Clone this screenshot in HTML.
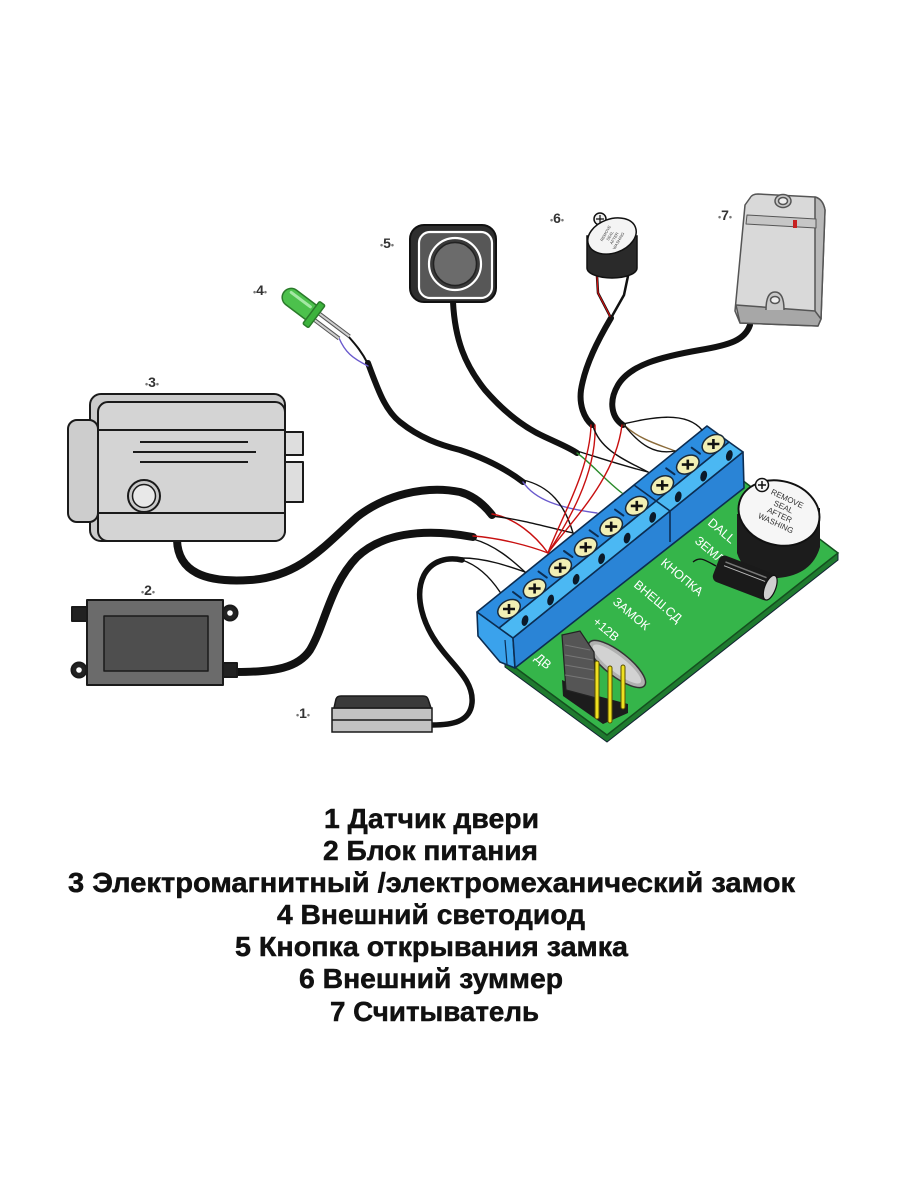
<!DOCTYPE html>
<html><head><meta charset="utf-8">
<style>html,body{margin:0;padding:0;background:#fff}svg{display:block}</style>
</head>
<body>
<svg width="900" height="1200" viewBox="0 0 900 1200" xmlns="http://www.w3.org/2000/svg">
<defs>
  <g id="scr">
    <ellipse rx="12" ry="8.5" transform="rotate(-30)" fill="#f1efb4" stroke="#1a2a3a" stroke-width="1.5"/>
    <path d="M-6,0 H6 M0,-5 V5" stroke="#111" stroke-width="2.6" fill="none"/>
  </g>
  <g id="hole">
    <ellipse rx="3.2" ry="5.5" transform="rotate(15)" fill="#0b1a2a"/>
  </g>
</defs>
<rect width="900" height="1200" fill="#fff"/>

<!-- thick cables -->
<g fill="none" stroke="#111" stroke-linecap="round">
  <path stroke-width="8" d="M177,540 C178,572 205,583 250,580 C300,577 325,545 357,517 C385,495 425,485 460,492 C475,496 485,506 492,515"/>
  <path stroke-width="8" d="M236,672 C275,672 298,668 310,650 C325,625 330,585 357,557 C380,535 420,527 473,537"/>
  <path stroke-width="5.5" d="M432,725 C452,725 470,722 472,703 C474,682 455,667 442,650 C422,625 414,595 424,575 C432,560 448,557 462,560"/>
  <path stroke-width="6" d="M368,363 C378,390 385,410 400,422 C420,438 440,445 460,450 C490,460 510,472 523,482"/>
  <path stroke-width="6" d="M453,302 C455,340 465,365 485,390 C505,413 525,428 545,437 C560,444 570,448 577,453"/>
  <path stroke-width="6" d="M611,318 C598,340 585,365 581,390 C579,405 584,418 592,425"/>
  <path stroke-width="6" d="M750,325 C745,340 730,345 700,350 C660,357 630,365 618,385 C608,402 612,418 623,425"/>
</g>

<!-- 3: lock -->
<g stroke="#1a1a1a" stroke-width="2" stroke-linejoin="round">
  <rect x="90" y="394" width="195" height="147" rx="11" fill="#cbcbcb"/>
  <rect x="98" y="402" width="187" height="139" rx="10" fill="#d4d4d4"/>
  <rect x="68" y="420" width="30" height="102" rx="9" fill="#cdcdcd"/>
  <rect x="285" y="432" width="18" height="23" fill="#dedede"/>
  <rect x="285" y="462" width="18" height="40" fill="#dedede"/>
  <line x1="98" y1="430" x2="285" y2="430"/>
  <line x1="98" y1="513" x2="285" y2="513"/>
  <line x1="140" y1="442" x2="248" y2="442"/>
  <line x1="133" y1="452" x2="256" y2="452"/>
  <line x1="140" y1="462" x2="248" y2="462"/>
  <circle cx="144" cy="496" r="16" fill="#c9c9c9"/>
  <circle cx="144" cy="496" r="11.5" fill="#e8e8e8" stroke-width="1.5"/>
</g>

<!-- 2: power supply -->
<g stroke="#1a1a1a" stroke-width="2" stroke-linejoin="round">
  <rect x="72" y="607" width="17" height="14" fill="#222"/>
  <circle cx="79" cy="670" r="7.5" fill="#222"/>
  <circle cx="79" cy="670" r="2.8" fill="#fff" stroke="none"/>
  <circle cx="230" cy="613" r="7.5" fill="#222"/>
  <circle cx="230" cy="613" r="2.8" fill="#fff" stroke="none"/>
  <rect x="221" y="663" width="16" height="14" fill="#222"/>
  <rect x="87" y="600" width="136" height="85" fill="#6b6b6b"/>
  <rect x="104" y="616" width="104" height="55" fill="#4e4e4e" stroke-width="1.5"/>
</g>

<!-- 1: door sensor -->
<g stroke="#1a1a1a" stroke-width="1.5">
  <rect x="332" y="708" width="100" height="24" fill="#c3c3c3"/>
  <line x1="332" y1="720" x2="432" y2="720"/>
  <path d="M334,708 L336,699 Q337,696 341,696 L423,696 Q427,696 428,699 L431,708 Z" fill="#3a3a3a"/>
</g>

<!-- 4: LED -->
<g fill="none" stroke-linecap="round">
  <path d="M348,336 C356,345 362,352 368,364" stroke="#111" stroke-width="2"/>
  <path d="M339,338 C345,352 352,358 368,366" stroke="#6a5acd" stroke-width="1.4"/>
</g>
<g transform="translate(284,292) rotate(37)" stroke-linejoin="round">
  <line x1="40" y1="-4" x2="79" y2="-4" stroke="#555" stroke-width="4"/>
  <line x1="40" y1="-4" x2="79" y2="-4" stroke="#cfcfcf" stroke-width="2"/>
  <line x1="40" y1="4" x2="72" y2="4" stroke="#555" stroke-width="4"/>
  <line x1="40" y1="4" x2="72" y2="4" stroke="#cfcfcf" stroke-width="2"/>
  <path d="M9,-9 L35,-9 L35,9 L9,9 A9,9 0 0 1 9,-9 Z" fill="#4cc14c" stroke="#2a7a2a" stroke-width="1.5"/>
  <line x1="6" y1="-4" x2="30" y2="-4" stroke="#a4e8a4" stroke-width="3" stroke-linecap="round"/>
  <rect x="34" y="-14" width="7" height="28" rx="1.5" fill="#3db33d" stroke="#2a7a2a" stroke-width="1.5"/>
</g>

<!-- 5: button -->
<g>
  <rect x="410" y="225" width="86" height="77" rx="14" fill="#2e2e2e" stroke="#111" stroke-width="2"/>
  <rect x="419" y="232" width="73" height="66" rx="11" fill="#575757" stroke="#fff" stroke-width="2.2"/>
  <circle cx="455" cy="264" r="26" fill="#3a3a3a" stroke="#fff" stroke-width="2.2"/>
  <circle cx="455" cy="264" r="21.5" fill="#6b6b6b" stroke="#222" stroke-width="1.5"/>
</g>

<!-- 6: external buzzer -->
<g stroke-linecap="round" fill="none">
  <path d="M597,276 L598,293 L611,318" stroke="#111" stroke-width="2.5"/>
  <path d="M597,276 L598,293 L611,318" stroke="#d01010" stroke-width="1.2"/>
  <path d="M628,276 L624,295 L611,318" stroke="#111" stroke-width="2.5"/>
</g>
<g stroke="#111" stroke-width="1.5">
  <path d="M587,236 L587,268 A25,10 0 0 0 637,268 L637,236 Z" fill="#2a2a2a"/>
  <circle cx="600" cy="219" r="6" fill="#f0f0f0"/>
  <path d="M596,219 H604 M600,215 V223" stroke-width="1.2"/>
  <ellipse cx="612" cy="236" rx="25" ry="17" transform="rotate(-20 612 236)" fill="#f4f4f4"/>
</g>
<g font-family="Liberation Sans, sans-serif" font-size="4" fill="#444" transform="rotate(-60 612 237)" text-anchor="middle">
  <text x="612" y="231">REMOVE</text>
  <text x="612" y="236">SEAL</text>
  <text x="612" y="241">AFTER</text>
  <text x="612" y="246">WASHING</text>
</g>

<!-- 7: reader -->
<g stroke="#555" stroke-width="1.5" stroke-linejoin="round">
  <path d="M750,198 Q752,194 758,194 L815,197 Q823,199 825,210 L821,319 L818,326 L740,323 L735,311 L745,205 Z" fill="#d9d9d9"/>
  <path d="M815,197 Q823,199 825,210 L821,319 L815,312 L815,206 Z" fill="#b8b8b8"/>
  <path d="M736,305 L815,311 L821,319 L818,326 L740,323 Z" fill="#a7a7a7"/>
  <path d="M747,215 L816,219 L816,228 L746,224 Z" fill="#c6c6c6" stroke-width="1"/>
  <rect x="793" y="220" width="4" height="8" fill="#c62020" stroke="none"/>
  <ellipse cx="783" cy="201" rx="8" ry="6.5" fill="#c9c9c9"/>
  <ellipse cx="783" cy="201" rx="4.5" ry="3.5" fill="#eee"/>
  <path d="M766,310 Q766,292 775,292 Q784,292 784,310" fill="#c9c9c9"/>
  <ellipse cx="775" cy="300" rx="4.5" ry="3.5" fill="#eee"/>
</g>

<!-- green board -->
<polygon points="505,660 607,735 838,553 838,560 607,742 505,667" fill="#1f7a2f" stroke="#123" stroke-width="1"/>
<polygon points="505,660 742,480 838,553 607,735" fill="#35b54a" stroke="#14501f" stroke-width="1.5"/>
<g font-family="Liberation Sans, sans-serif" font-size="12.5" fill="#fff">
  <text transform="translate(707,524) rotate(40)">DALL</text>
  <text transform="translate(694,542) rotate(40)">ЗЕМЛЯ</text>
  <text transform="translate(660,564) rotate(40)">КНОПКА</text>
  <text transform="translate(633,586) rotate(40)">ВНЕШ.СД</text>
  <text transform="translate(612,603) rotate(40)">ЗАМОК</text>
  <text transform="translate(592,623) rotate(40)">+12В</text>
  <text transform="translate(534,659) rotate(40)">ДВ</text>
</g>

<!-- crystal & header -->
<ellipse cx="617" cy="664" rx="35" ry="12" transform="rotate(38 617 664)" fill="#b0b0b0" stroke="#333" stroke-width="1.5"/>
<ellipse cx="617" cy="664" rx="30" ry="8" transform="rotate(38 617 664)" fill="#d2d2d2"/>
<polygon points="562,680 598,696 628,704 628,713 603,724 563,696" fill="#1c1c1c"/>
<polygon points="562,635 580,631 594,652 596,698 566,690" fill="#555" stroke="#222" stroke-width="1.2"/>
<g stroke="#777" stroke-width="1">
  <line x1="565" y1="645" x2="590" y2="650"/>
  <line x1="565" y1="655" x2="593" y2="660"/>
  <line x1="565" y1="665" x2="594" y2="670"/>
  <line x1="565" y1="675" x2="594" y2="680"/>
</g>
<g stroke-linecap="round">
  <g stroke="#5a5000" stroke-width="5">
    <line x1="597" y1="663" x2="597" y2="717"/>
    <line x1="610" y1="668" x2="610" y2="721"/>
    <line x1="623" y1="667" x2="623" y2="707"/>
  </g>
  <g stroke="#efe020" stroke-width="3">
    <line x1="597" y1="663" x2="597" y2="717"/>
    <line x1="610" y1="668" x2="610" y2="721"/>
    <line x1="623" y1="667" x2="623" y2="707"/>
  </g>
</g>

<!-- big buzzer -->
<path d="M737,514 L737,553 Q745,578 778,578 Q812,575 820,547 L820,508 Z" fill="#1c1c1c"/>
<ellipse cx="779" cy="513" rx="41" ry="32" transform="rotate(15 779 513)" fill="#f6f6f6" stroke="#111" stroke-width="2"/>
<circle cx="762" cy="485" r="6.5" fill="#f6f6f6" stroke="#111" stroke-width="1.5"/>
<path d="M758,485 H766 M762,481 V489" stroke="#111" stroke-width="1.5"/>
<g font-family="Liberation Sans, sans-serif" font-size="8" fill="#333" text-anchor="middle" transform="rotate(25 781 512)">
  <text x="781" y="500">REMOVE</text>
  <text x="781" y="509">SEAL</text>
  <text x="781" y="518">AFTER</text>
  <text x="781" y="527">WASHING</text>
</g>
<!-- capacitor -->
<path d="M716,566 C705,560 700,556 693,562" fill="none" stroke="#111" stroke-width="1.3"/>
<g transform="translate(745,578) rotate(21)">
  <rect x="-31" y="-14" width="62" height="28" rx="6" fill="#1a1a1a"/>
  <line x1="-24" y1="-8" x2="20" y2="-8" stroke="#777" stroke-width="1.5"/>
  <line x1="-24" y1="-4" x2="20" y2="-4" stroke="#bbb" stroke-width="1"/>
  <ellipse cx="27" cy="0" rx="5.5" ry="13" fill="#cfcfcf" stroke="#111" stroke-width="1.2"/>
</g>

<!-- terminal block -->
<g stroke="#0c2d52" stroke-width="1.6" stroke-linejoin="round">
  <polygon points="477,612 513,638 515,668 500,662 478,636" fill="#3aa2ec"/>
  <polygon points="513,638 743,452 744,488 515,668" fill="#2a84d6"/>
  <polygon points="499,628 729,442 743,452 513,638" fill="#4bb8f3"/>
  <polygon points="477,612 707,426 729,442 499,628" fill="#2c8de0"/>
  <line x1="634" y1="485" x2="670" y2="511"/>
  <line x1="670" y1="511" x2="670" y2="542"/>
  <line x1="505" y1="640" x2="507" y2="664" stroke-width="1.2"/>
</g>
<g stroke="#0c2d52" stroke-width="2" stroke-linecap="round">
  <line x1="513" y1="592" x2="521" y2="598"/>
  <line x1="538.5" y1="571.6" x2="546.8" y2="577.6"/>
  <line x1="564" y1="551" x2="572.4" y2="557"/>
  <line x1="589.6" y1="530.3" x2="597.9" y2="536.3"/>
  <line x1="615" y1="509.6" x2="623.4" y2="515.6"/>
  <line x1="666.2" y1="468.3" x2="674.5" y2="474.3"/>
  <line x1="691.7" y1="447.7" x2="700" y2="453.7"/>
</g>
<use href="#scr" x="509" y="609"/>
<use href="#scr" x="534.6" y="588.5"/>
<use href="#scr" x="560.2" y="567.8"/>
<use href="#scr" x="585.7" y="547.2"/>
<use href="#scr" x="611.2" y="526.6"/>
<use href="#scr" x="636.8" y="505.9"/>
<use href="#scr" x="662.3" y="485.3"/>
<use href="#scr" x="687.8" y="464.6"/>
<use href="#scr" x="713.4" y="444"/>
<use href="#hole" x="525" y="620.6"/>
<use href="#hole" x="550.6" y="600"/>
<use href="#hole" x="576.1" y="579.3"/>
<use href="#hole" x="601.6" y="558.7"/>
<use href="#hole" x="627.1" y="538.1"/>
<use href="#hole" x="652.7" y="517.4"/>
<use href="#hole" x="678.2" y="496.8"/>
<use href="#hole" x="703.7" y="476.1"/>
<use href="#hole" x="729.3" y="455.5"/>

<!-- thin wires -->
<g fill="none" stroke-width="1.4" stroke-linecap="round">
  <path stroke="#111" d="M462,560 C480,566 492,580 500,592"/>
  <path stroke="#111" d="M462,558 C485,558 508,566 525,572"/>
  <path stroke="#111" d="M473,539 C495,545 512,560 525,572"/>
  <path stroke="#c81010" d="M473,536 C500,538 530,546 548,553"/>
  <path stroke="#c81010" d="M492,514 C515,518 535,535 548,553"/>
  <path stroke="#111" d="M492,516 C525,520 550,528 573,533"/>
  <path stroke="#6a5acd" d="M523,482 C535,500 560,508 597,513"/>
  <path stroke="#111" d="M523,480 C550,486 565,505 573,533"/>
  <path stroke="#2a8a2a" d="M577,453 C590,462 605,480 622,493"/>
  <path stroke="#111" d="M577,451 C600,458 620,465 648,472"/>
  <path stroke="#c81010" d="M591,425 C590,470 560,520 548,553"/>
  <path stroke="#c81010" d="M595,425 C597,475 566,525 548,553"/>
  <path stroke="#111" d="M593,426 C600,450 625,460 648,472"/>
  <path stroke="#c81010" d="M622,425 C615,480 572,520 548,553"/>
  <path stroke="#8b6b3a" d="M624,425 C640,440 660,445 675,451"/>
  <path stroke="#111" d="M623,424 C650,418 685,410 702,430"/>
  <path stroke="#111" d="M625,426 C640,445 655,455 675,451"/>
</g>

<!-- item labels -->
<g font-family="Liberation Sans, sans-serif" font-weight="bold" font-size="14" fill="#333" text-anchor="middle">
  <text x="152" y="387"><tspan font-size="9" fill="#777">•</tspan>3<tspan font-size="9" fill="#777">•</tspan></text>
  <text x="148" y="595"><tspan font-size="9" fill="#777">•</tspan>2<tspan font-size="9" fill="#777">•</tspan></text>
  <text x="303" y="718"><tspan font-size="9" fill="#777">•</tspan>1<tspan font-size="9" fill="#777">•</tspan></text>
  <text x="260" y="295"><tspan font-size="9" fill="#777">•</tspan>4<tspan font-size="9" fill="#777">•</tspan></text>
  <text x="387" y="248"><tspan font-size="9" fill="#777">•</tspan>5<tspan font-size="9" fill="#777">•</tspan></text>
  <text x="557" y="223"><tspan font-size="9" fill="#777">•</tspan>6<tspan font-size="9" fill="#777">•</tspan></text>
  <text x="725" y="220"><tspan font-size="9" fill="#777">•</tspan>7<tspan font-size="9" fill="#777">•</tspan></text>
</g>

<!-- legend -->
<g font-family="Liberation Sans, sans-serif" font-weight="bold" font-size="28" fill="#111" stroke="#111" stroke-width="0.5">
  <text x="324" y="828" textLength="215" lengthAdjust="spacingAndGlyphs">1 Датчик двери</text>
  <text x="323" y="860" textLength="215" lengthAdjust="spacingAndGlyphs">2 Блок питания</text>
  <text x="68" y="892" textLength="727" lengthAdjust="spacingAndGlyphs">3 Электромагнитный /электромеханический замок</text>
  <text x="277" y="924" textLength="308" lengthAdjust="spacingAndGlyphs">4 Внешний светодиод</text>
  <text x="235" y="956" textLength="393" lengthAdjust="spacingAndGlyphs">5 Кнопка открывания замка</text>
  <text x="299" y="988" textLength="264" lengthAdjust="spacingAndGlyphs">6 Внешний зуммер</text>
  <text x="330" y="1021" textLength="209" lengthAdjust="spacingAndGlyphs">7 Считыватель</text>
</g>
</svg>
</body></html>
